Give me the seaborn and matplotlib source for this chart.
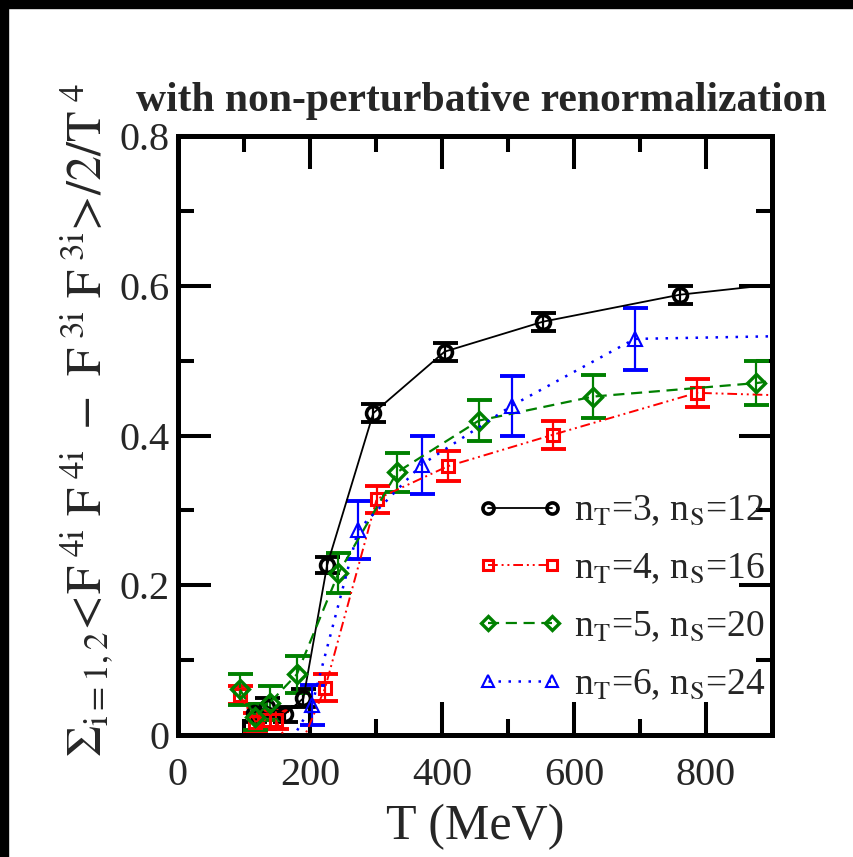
import matplotlib
matplotlib.use("Agg")
import matplotlib.pyplot as plt
from matplotlib.patches import Rectangle
import seaborn as sns
import numpy as np

# ---------------- data ----------------
T3 = [115, 135, 162, 190, 226, 296, 404, 553, 760, 1010]
F3 = [0.030, 0.038, 0.028, 0.049, 0.227, 0.430, 0.512, 0.552, 0.588, 0.612]
E3 = [0.012, 0.012, 0.010, 0.012, 0.011, 0.012, 0.012, 0.012, 0.012, 0.012]

T4 = [94, 117, 130, 148, 178, 223, 301, 409, 568, 786, 1050]
F4 = [0.053, 0.018, 0.020, 0.020, -0.030, 0.063, 0.315, 0.359, 0.401, 0.457, 0.450]
E4 = [0.012, 0.012, 0.012, 0.012, 0.015, 0.018, 0.018, 0.020, 0.019, 0.019, 0.020]

T5 = [94, 117, 139, 180, 243, 332, 456, 629, 876, 1050]
F5 = [0.061, 0.024, 0.043, 0.081, 0.216, 0.351, 0.420, 0.452, 0.470, 0.490]
E5 = [0.021, 0.017, 0.023, 0.025, 0.027, 0.026, 0.027, 0.029, 0.029, 0.030]

T6 = [150, 203, 273, 369, 506, 692, 1050]
F6 = [-0.040, 0.040, 0.274, 0.361, 0.440, 0.529, 0.535]
E6 = [0.030, 0.027, 0.039, 0.039, 0.040, 0.041, 0.040]

labels = [r'n$_{\mathrm{T}}$=3, n$_{\mathrm{S}}$=12',
          r'n$_{\mathrm{T}}$=4, n$_{\mathrm{S}}$=16',
          r'n$_{\mathrm{T}}$=5, n$_{\mathrm{S}}$=20',
          r'n$_{\mathrm{T}}$=6, n$_{\mathrm{S}}$=24']
xticks = [0, 200, 400, 600, 800]
yticks = [0, 0.2, 0.4, 0.6, 0.8]
title = "with non-perturbative renormalization"

# ---------------- style ----------------
sns.set_theme(style="ticks")
plt.rcParams['font.family'] = ['Liberation Serif', 'DejaVu Serif']
plt.rcParams['mathtext.fontset'] = 'stix'

W, H = 854, 857
fig = plt.figure(figsize=(W / 100, H / 100), dpi=100)
fig.patch.set_facecolor('white')
ax = fig.add_axes([178 / W, 1 - 735 / H, (772 - 178) / W, (735 - 136) / H])

series = [
    (T3, F3, E3, 'black', 'o', '-', 1.3, 10, 2.6),
    (T4, F4, E4, 'red', 's', (0, (5, 2, 1, 2, 1, 2)), 1.4, 9, 2.2),
    (T5, F5, E5, 'green', 'D', (0, (5, 3)), 1.6, 9, 2.4),
    (T6, F6, E6, 'blue', '^', (0, (1, 3)), 1.8, 10, 1.5),
]

for (T, F, E, c, m, ls, lw, ms, mew), lab in zip(series, labels):
    ax.errorbar(T, F, yerr=E, fmt='none', ecolor=c, elinewidth=1.6,
                capsize=9, capthick=2.8, zorder=2)
    sns.lineplot(x=T, y=F, ax=ax, color=c, marker=m, linestyle=ls,
                 linewidth=lw, markersize=ms, markerfacecolor='none',
                 markeredgecolor=c, markeredgewidth=mew, label=lab,
                 sort=True, zorder=3, errorbar=None)

ax.set_xlim(0, 900)
ax.set_ylim(0, 0.8)
ax.set_xticks(xticks)
ax.set_yticks(yticks)
ax.set_xticklabels([str(v) for v in xticks])
ax.set_yticklabels(['0', '0.2', '0.4', '0.6', '0.8'])
ax.set_xticks(np.arange(100, 900, 200), minor=True)
ax.set_yticks([0.1, 0.3, 0.5, 0.7], minor=True)

for sp in ax.spines.values():
    sp.set_visible(True)
    sp.set_linewidth(3.6)
    sp.set_color('black')
ax.tick_params(which='both', direction='in', top=True, right=True,
               color='black', width=2.9, labelsize=29)
ax.tick_params(which='major', length=24)
ax.tick_params(which='minor', length=11.5)
ax.tick_params(axis='x', which='major', pad=16)
ax.tick_params(axis='y', which='major', pad=6)

ax.set_xlabel('T (MeV)', fontsize=36, labelpad=7)
ax.set_ylabel(r'$\Sigma_{\mathrm{i=1,2}}\!<\!\mathrm{F}^{\ \mathrm{4i}}\ \mathrm{F}^{\ \mathrm{4i}}\ -\ '
              r'\mathrm{F}^{\ \mathrm{3i}}\ \mathrm{F}^{\ \mathrm{3i}}\!>\!/2/\mathrm{T}^{\ 4}$',
              fontsize=36)
ax.yaxis.set_label_coords(-0.105, 0.525)

fig.text(481 / W, 1 - 101 / H, title, fontsize=30, fontweight='bold',
         ha='center', va='center')

leg = ax.legend(loc='upper left', bbox_to_anchor=((477 - 178) / 594, (735 - 494) / 599),
                numpoints=2, frameon=False, fontsize=27, handlelength=2.3,
                handletextpad=0.3, labelspacing=0.62, borderpad=0, borderaxespad=0,
                markerscale=0.8)

# black border strips at top and left
fig.patches.append(Rectangle((0, 1 - 8 / H), 1, 8 / H, transform=fig.transFigure,
                             color='black', zorder=0))
fig.patches.append(Rectangle((0, 0), 8 / W, 1, transform=fig.transFigure,
                             color='black', zorder=0))

fig.savefig('out.png', dpi=100)
